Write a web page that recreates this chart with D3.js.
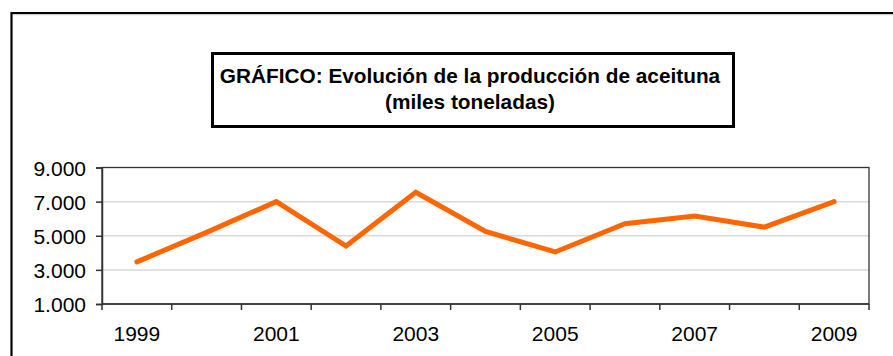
<!DOCTYPE html>
<html>
<head>
<meta charset="utf-8">
<script src="https://cdn.jsdelivr.net/npm/d3@7"></script>
<style>
  html, body { margin: 0; padding: 0; background: #fff; }
  svg { display: block; font-family: "Liberation Sans", Arial, sans-serif; }
</style>
</head>
<body>
<svg id="chart" width="893" height="356"></svg>
<script>
// Olive production, thousands of tonnes
const years = ["1999", "2000", "2001", "2002", "2003", "2004", "2005", "2006", "2007", "2008", "2009"];
const production = [3470, 5200, 7000, 4400, 7550, 5250, 4050, 5700, 6150, 5500, 7000];
const yTicks = [1000, 3000, 5000, 7000, 9000];
const xLabels = ["1999", "2001", "2003", "2005", "2007", "2009"];
const titleLines = ["GRÁFICO: Evolución de la producción de aceituna", "(miles toneladas)"];

const svg = d3.select("#chart");
const W = 893, H = 356;
const plot = { left: 102, right: 869, top: 167.5, bottom: 304 };
const labelSize = 21;

svg.append("rect").attr("width", W).attr("height", H).attr("fill", "#fff");

// outer chart frame (open on right and bottom)
svg.append("line").attr("x1", 12).attr("x2", W).attr("y1", 14.7).attr("y2", 14.7)
  .attr("stroke", "#c8c8c8").attr("stroke-width", 1);
svg.append("path").attr("d", `M11.5,${H} V13 H${W}`)
  .attr("fill", "none").attr("stroke", "#000").attr("stroke-width", 2.2);

// title box
svg.append("rect").attr("x", 212.5).attr("y", 53.5).attr("width", 521).attr("height", 73)
  .attr("fill", "#fff").attr("stroke", "#000").attr("stroke-width", 3);
const title = svg.append("text").attr("text-anchor", "middle")
  .attr("font-size", 20.8).attr("font-weight", "bold").attr("fill", "#000");
title.selectAll("tspan").data(titleLines).join("tspan")
  .attr("x", 470).attr("y", (d, i) => 82.5 + i * 26).text(d => d);

// scales
const x = d3.scaleBand().domain(years).range([plot.left, plot.right]).padding(0);
const y = d3.scaleLinear().domain([1000, 9000]).range([plot.bottom, plot.top]);
const fmt = d3.formatLocale({ decimal: ",", thousands: ".", grouping: [3], currency: ["", " €"] }).format(",d");

// horizontal gridlines
svg.append("g").selectAll("line").data(yTicks.filter(v => v > 1000 && v < 9000)).join("line")
  .attr("x1", plot.left).attr("x2", plot.right)
  .attr("y1", d => y(d)).attr("y2", d => y(d))
  .attr("stroke", "#d9d9d9").attr("stroke-width", 1.5);

// plot area frame
svg.append("rect").attr("x", plot.left).attr("y", plot.top)
  .attr("width", plot.right - plot.left).attr("height", plot.bottom - plot.top)
  .attr("fill", "none").attr("stroke", "#333").attr("stroke-width", 1.3);

// y axis
const yAxis = d3.axisLeft(y).tickValues(yTicks).tickFormat(fmt).tickSize(6).tickPadding(10);
const gy = svg.append("g").attr("transform", `translate(${plot.left},0)`).call(yAxis);
gy.select(".domain").attr("stroke", "#333").attr("stroke-width", 1.5);
gy.selectAll(".tick line").attr("stroke", "#333").attr("stroke-width", 1.5);
gy.selectAll(".tick text").attr("font-size", labelSize).attr("fill", "#000")
  .attr("font-family", "Liberation Sans, Arial, sans-serif").attr("dy", "0.36em");

// x axis: ticks at category boundaries, labels every other year
const boundaries = years.map(d => x(d)).concat([x(years[years.length - 1]) + x.bandwidth()]);
const gx = svg.append("g");
gx.append("line").attr("x1", plot.left).attr("x2", plot.right)
  .attr("y1", plot.bottom).attr("y2", plot.bottom)
  .attr("stroke", "#333").attr("stroke-width", 1.5);
gx.selectAll("line.tick").data(boundaries).join("line").attr("class", "tick")
  .attr("x1", d => d).attr("x2", d => d)
  .attr("y1", plot.bottom).attr("y2", plot.bottom + 6)
  .attr("stroke", "#333").attr("stroke-width", 1.5);
gx.selectAll("text").data(xLabels).join("text")
  .attr("x", d => x(d) + x.bandwidth() / 2).attr("y", 341)
  .attr("text-anchor", "middle").attr("font-size", labelSize).attr("fill", "#000")
  .text(d => d);

// production line
const line = d3.line()
  .x((d, i) => x(years[i]) + x.bandwidth() / 2)
  .y(d => y(d));
svg.append("path").datum(production).attr("d", line)
  .attr("fill", "none").attr("stroke", "#ff6600").attr("stroke-width", 5)
  .attr("stroke-linejoin", "miter").attr("stroke-linecap", "round");
</script>
</body>
</html>
